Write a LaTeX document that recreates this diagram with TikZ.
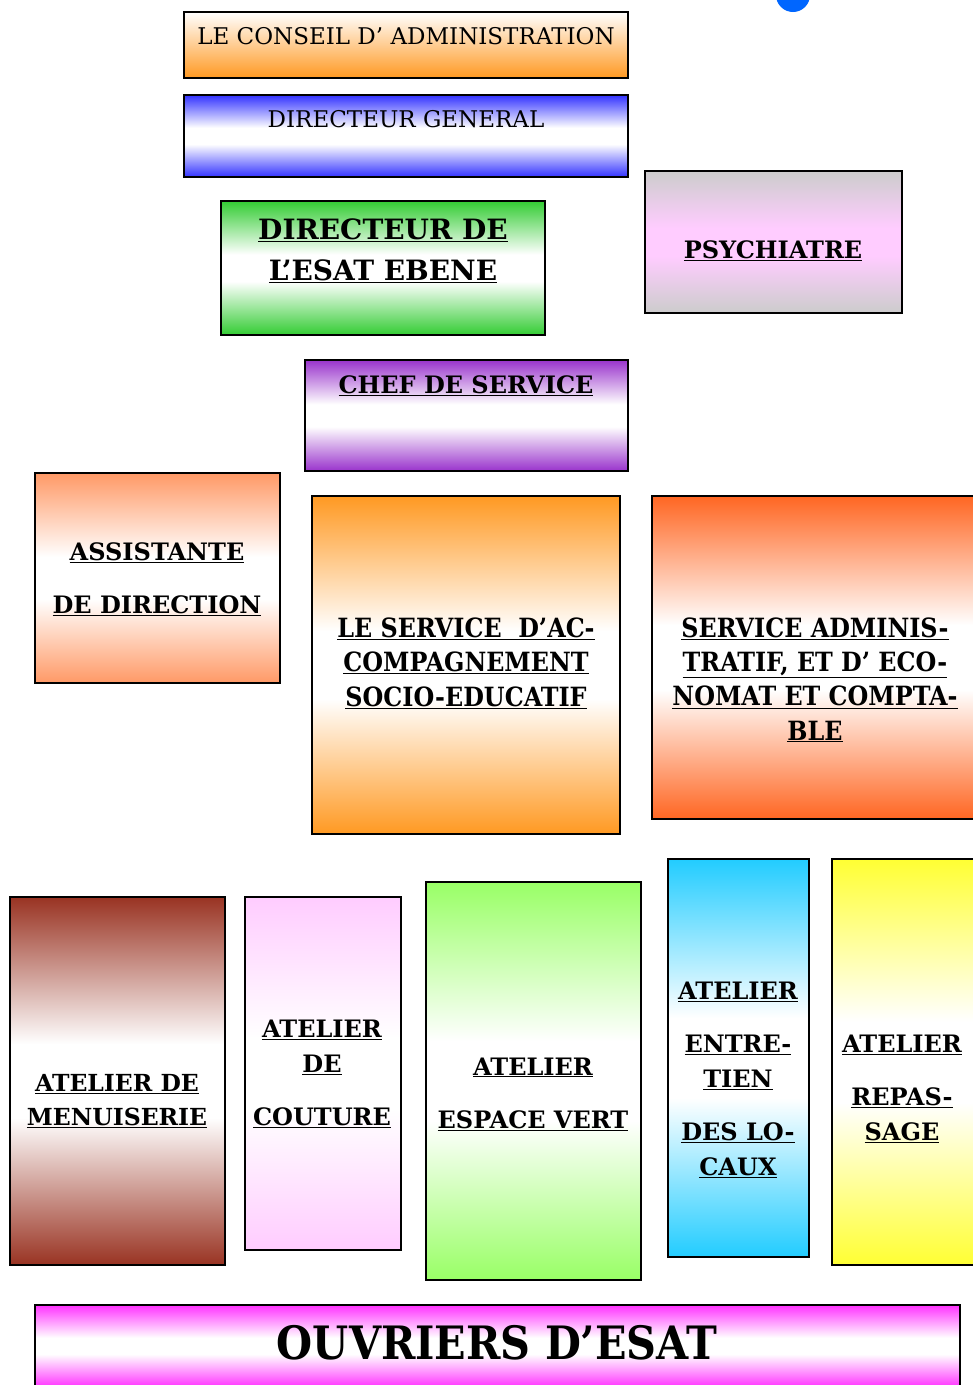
\documentclass[tikz,border=0pt]{standalone}
\usepackage{fontspec}
\setmainfont{DejaVu Serif}
\newfontfamily\condserif{DejaVu Serif Condensed}

\definecolor{consorange}{HTML}{FF9922}
\definecolor{dgblue}{HTML}{3333FF}
\definecolor{esatgreen}{HTML}{33CC33}
\definecolor{psygray}{HTML}{CCCCCC}
\definecolor{psypink}{HTML}{FFCCFF}
\definecolor{chefpurple}{HTML}{9933CC}
\definecolor{asssalmon}{HTML}{FF9966}
\definecolor{accorange}{HTML}{FF9922}
\definecolor{admred}{HTML}{FF6622}
\definecolor{menbrown}{HTML}{993322}
\definecolor{coutpink}{HTML}{FFCCFF}
\definecolor{evgreen}{HTML}{99FF66}
\definecolor{entcyan}{HTML}{22CCFF}
\definecolor{repyellow}{HTML}{FFFF33}
\definecolor{ouvmagenta}{HTML}{FF33FF}
\definecolor{dotblue}{HTML}{0066FF}

\colorlet{bandedge}{black}
\colorlet{bandmid}{white}
% edge colour at top and bottom, broad pale band in the middle
\pgfdeclareverticalshading[bandedge,bandmid]{band}{100bp}{%
	color(0bp)=(bandedge); color(25bp)=(bandedge);
	color(36bp)=(bandedge!45!bandmid); color(45bp)=(bandmid);
	color(55bp)=(bandmid); color(64bp)=(bandedge!45!bandmid);
	color(75bp)=(bandedge); color(100bp)=(bandedge)}

\begin{document}
\begin{tikzpicture}[x=1pt,y=-1pt,
	box/.style={draw=black, line width=1.6pt, rectangle, inner sep=0pt},
	sh/.style={/utils/exec={\colorlet{bandedge}{#1}\colorlet{bandmid}{white}}, shading=band},
	shmid/.style 2 args={/utils/exec={\colorlet{bandedge}{#1}\colorlet{bandmid}{#2}}, shading=band},
	lbl/.style={align=center, inner sep=0pt, font=\bfseries\fontsize{24}{35}\selectfont},
	plain/.style={align=center, inner sep=0pt, font=\fontsize{23}{26}\selectfont}]

		\useasboundingbox (0,0) rectangle (973,1385);
		\fill[white] (0,0) rectangle (973,1385);
		\clip (0,0) rectangle (973,1385);

		\fill[dotblue] (793,-5) circle (17pt);

		% direction
		\node[box, top color=white, bottom color=consorange, minimum width=444pt, minimum height=66pt] (cons) at (406,45) {};
		\node[plain] (consT) at (406,36) {LE CONSEIL D' ADMINISTRATION};

		\node[box, sh=dgblue, minimum width=444pt, minimum height=82pt] (dg) at (406,136) {};
		\node[plain] (dgT) at (406,119) {DIRECTEUR GENERAL};

		\node[box, sh=esatgreen, minimum width=324pt, minimum height=134pt] (esat) at (383,268) {};
		\node[lbl, font=\bfseries\fontsize{28}{41}\selectfont] (esatT) at (383,251) {\underline{DIRECTEUR DE}\\\underline{L’ESAT EBENE}};

		\node[box, shmid={psygray}{psypink}, minimum width=257pt, minimum height=142pt] (psy) at (773.5,242) {};
		\node[lbl] (psyT) at (773,251) {\underline{PSYCHIATRE}};

		\node[box, sh=chefpurple, minimum width=323pt, minimum height=111pt] (chef) at (466.5,415.5) {};
		\node[lbl] (chefT) at (466,386) {\underline{CHEF DE SERVICE}};

		% services
		\node[box, sh=asssalmon, minimum width=245pt, minimum height=210pt] (assist) at (157.5,578) {};
		\node[lbl, font=\bfseries\fontsize{24}{53}\selectfont] (assistT) at (157,579) {\underline{ASSISTANTE}\\\underline{DE DIRECTION}};

		\node[box, sh=accorange, minimum width=308pt, minimum height=338pt] (accomp) at (466,665) {};
		\node[lbl, font=\condserif\bfseries\fontsize{26.5}{34.5}\selectfont] (accompT) at (466,663) {\underline{LE SERVICE\ \ D’AC-}\\\underline{COMPAGNEMENT}\\\underline{SOCIO-EDUCATIF}};

		\node[box, sh=admred, minimum width=338pt, minimum height=323pt] (admin) at (821,657.5) {};
		\node[lbl, font=\condserif\bfseries\fontsize{26.5}{34.3}\selectfont] (adminT) at (815,680) {\underline{SERVICE ADMINIS-}\\\underline{TRATIF, ET D’ ECO-}\\\underline{NOMAT ET COMPTA-}\\\underline{BLE}};

		% ateliers
		\node[box, sh=menbrown, minimum width=215pt, minimum height=368pt] (menuis) at (117.5,1081) {};
		\node[lbl, font=\bfseries\fontsize{23.5}{34}\selectfont] (menuisT) at (117,1101) {\underline{ATELIER DE}\\\underline{MENUISERIE}};

		\node[box, sh=coutpink, minimum width=156pt, minimum height=353pt] (couture) at (323,1073.5) {};
		\node[lbl] (coutureT) at (322,1074) {\underline{ATELIER}\\\underline{DE}\\[18pt]\underline{COUTURE}};

		\node[box, sh=evgreen, minimum width=215pt, minimum height=398pt] (espace) at (533.5,1081) {};
		\node[lbl, font=\bfseries\fontsize{24}{53}\selectfont] (espaceT) at (533,1094) {\underline{ATELIER}\\\underline{ESPACE VERT}};

		\node[box, sh=entcyan, minimum width=141pt, minimum height=398pt] (entr) at (738.5,1058) {};
		\node[lbl] (entrT) at (738,1080) {\underline{ATELIER}\\[18pt]\underline{ENTRE-}\\\underline{TIEN}\\[18pt]\underline{DES LO-}\\\underline{CAUX}};

		\node[box, sh=repyellow, minimum width=158pt, minimum height=406pt] (repas) at (911,1062) {};
		\node[lbl] (repasT) at (902,1089) {\underline{ATELIER}\\[18pt]\underline{REPAS-}\\\underline{SAGE}};

		% ouvriers
		\node[box, sh=ouvmagenta, minimum width=925pt, minimum height=82pt] (ouvr) at (497.5,1346) {};
		\node[inner sep=0pt, font=\condserif\bfseries\fontsize{46}{50}\selectfont] (ouvrT) at (497,1343) {OUVRIERS D’ESAT};
\end{tikzpicture}
\end{document}
